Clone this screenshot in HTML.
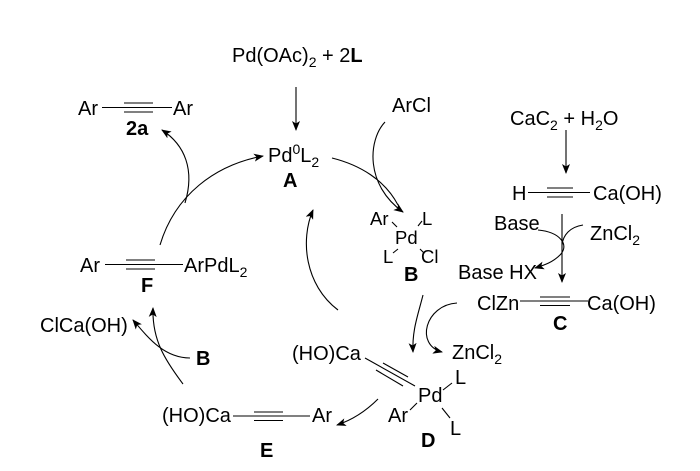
<!DOCTYPE html>
<html><head><meta charset="utf-8"><style>
html,body{margin:0;padding:0;background:#fff;}
svg{display:block;}
text{font-family:"Liberation Sans",Arial,sans-serif;font-size:20px;fill:#000;}
.b{font-weight:bold;}
.s{font-size:18.5px;}
</style></head><body>
<svg width="700" height="471" viewBox="0 0 700 471" xmlns="http://www.w3.org/2000/svg">
<defs>
<marker id="ah" markerWidth="10" markerHeight="8" refX="9" refY="4" orient="auto" markerUnits="userSpaceOnUse">
<path d="M0,0 L10,4 L0,8 L2.5,4 z" fill="#000"/>
</marker>
</defs>
<g stroke="#000" stroke-width="1.1" fill="none">
<path d="M296,87 L296,130" marker-end="url(#ah)"/>
<path d="M566,130 L566,173" marker-end="url(#ah)"/>
<path d="M562,214 L562,282" marker-end="url(#ah)"/>
<path d="M385,122 C368,140 365,185 403,212" marker-end="url(#ah)"/>
<path d="M332,158 C360,165 385,180 398,205"/>
<path d="M423,295 C418,315 412,330 413,352" marker-end="url(#ah)"/>
<path d="M457,303 C425,305 415,345 442,352" marker-end="url(#ah)"/>
<path d="M338,310 C305,285 300,240 313,210" marker-end="url(#ah)"/>
<path d="M160,245 C175,195 215,165 263,156" marker-end="url(#ah)"/>
<path d="M185,203 C195,170 185,145 162,130" marker-end="url(#ah)"/>
<path d="M183,384 C165,360 152,340 153,308" marker-end="url(#ah)"/>
<path d="M190,358 C165,358 150,340 133,320" marker-end="url(#ah)"/>
<path d="M378,399 C365,412 352,420 337,425" marker-end="url(#ah)"/>
<path d="M538,230 C560,232 570,245 560,255 C553,262 545,265 535,268" marker-end="url(#ah)"/>
<path d="M583,225 C570,227 563,235 562,245"/>
<path d="M102,107.5 L172,107.5 M124,103 L153,103 M124,112 L153,112"/>
<path d="M105,264.5 L183,264.5 M126,260 L155,260 M126,269 L155,269"/>
<path d="M233,416 L310,416 M254,412 L283,412 M254,420.5 L283,420.5"/>
<path d="M528,192.5 L590,192.5 M547,188 L573,188 M547,197 L573,197"/>
<path d="M520,301 L588,301 M540,297 L570,297 M540,305.5 L570,305.5"/>
<path d="M365,358 L415,386 M383,363 L408,377 M376,370 L403,386"/>
<path d="M443,390 L452,383 M410,410 L417,403 M442,408 L450,418"/>
<path d="M392,222 L397,227 M418,226 L422,221 M393,253 L398,249 M420,249 L424,253"/>
</g>
<text x="232" y="62">Pd(OAc)<tspan font-size="14" dy="5">2</tspan><tspan dy="-5"> + 2</tspan><tspan class="b">L</tspan></text>
<text x="268" y="162">Pd<tspan font-size="14" dy="-8">0</tspan><tspan dy="8">L</tspan><tspan font-size="14" dy="5">2</tspan></text>
<text class="b" x="283" y="187">A</text>
<text x="78" y="115">Ar</text>
<text x="173" y="115">Ar</text>
<text class="b" x="126" y="135">2a</text>
<text x="392" y="112">ArCl</text>
<text x="510" y="125">CaC<tspan font-size="14" dy="5">2</tspan><tspan dy="-5"> + H</tspan><tspan font-size="14" dy="5">2</tspan><tspan dy="-5">O</tspan></text>
<text x="512" y="200">H</text>
<text x="593" y="200">Ca(OH)</text>
<text x="494" y="230">Base</text>
<text x="590" y="240">ZnCl<tspan font-size="14" dy="5">2</tspan></text>
<text x="458" y="279">Base HX</text>
<text x="477" y="310">ClZn</text>
<text x="587" y="310">Ca(OH)</text>
<text class="b" x="553" y="330">C</text>
<text class="s" x="370" y="225">Ar</text>
<text class="s" x="422" y="225">L</text>
<text class="s" x="395" y="244">Pd</text>
<text class="s" x="383" y="263">L</text>
<text class="s" x="421" y="263">Cl</text>
<text class="b" x="404" y="281">B</text>
<text x="80" y="272">Ar</text>
<text x="184" y="272">ArPdL<tspan font-size="14" dy="5">2</tspan></text>
<text class="b" x="141" y="292">F</text>
<text x="40" y="332">ClCa(OH)</text>
<text class="b" x="196" y="365">B</text>
<text x="292" y="360">(HO)Ca</text>
<text x="452" y="359">ZnCl<tspan font-size="14" dy="5">2</tspan></text>
<text x="418" y="402">Pd</text>
<text x="455" y="384">L</text>
<text x="388" y="422">Ar</text>
<text x="450" y="435">L</text>
<text class="b" x="421" y="447">D</text>
<text x="162" y="422">(HO)Ca</text>
<text x="312" y="422">Ar</text>
<text class="b" x="260" y="457">E</text>
</svg>
</body></html>
